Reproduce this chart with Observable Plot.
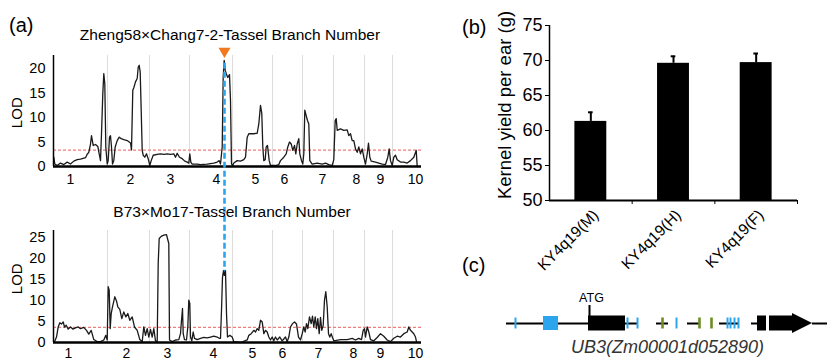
<!DOCTYPE html>
<html><head><meta charset="utf-8">
<script src="https://cdn.jsdelivr.net/npm/d3@7"></script>
<script src="https://cdn.jsdelivr.net/npm/@observablehq/plot@0.6"></script>
<style>
body{margin:0;background:#fff;}
#root{position:relative;width:827px;height:362px;overflow:hidden;font-family:"Liberation Sans",Arial,sans-serif;background:#fff;}
.abs{position:absolute;}
.lbl{position:absolute;white-space:nowrap;color:#000;line-height:1;}
</style></head><body><div id="root"></div>
<script>
// ---------- Panel (a) data ----------
const chromBounds = [54, 96, 136, 179, 219, 249, 280, 311, 339];
const chromNames = ["1","2","3","4","5","6","7","8","9","10"];
const topLabelPos = [17, 77, 117, 163, 202, 231, 269, 303, 327, 362];
const botLabelPos = [15, 73, 114, 160, 199, 229, 265, 300, 327, 362];
const topTitle = "Zheng58×Chang7-2-Tassel Branch Number";
const botTitle = "B73×Mo17-Tassel Branch Number";
const topThreshold = 3.35;
const botThreshold = 3.6;
const qtlPos = 171;
const topTicks = [0, 5, 10, 15, 20];
const botTicks = [0, 5, 10, 15, 20, 25];

const topLOD = [[0.3,1.9],[1.3,0.5],[3.7,0.2],[7,0.7],[10.3,0.4],[13.7,0.9],[17,0.5],[20.3,1.1],[23.7,1.4],[27,1.5],[32,1.8],[33.7,2.5],[35.3,2.9],[37,4.6],[38,6.3],[39.7,4.3],[42,4.5],[44.3,4.1],[45.7,2.6],[47,1.2],[48,6.7],[49.3,14.9],[50.3,19],[51.3,16.9],[52.3,4],[53.7,0.5],[54.7,1.2],[56,6],[57,6.3],[58,4],[59,0.5],[60.3,1.2],[61.7,4],[63.7,5.3],[65.7,6],[67.7,5.7],[70.3,5.5],[73.7,5.3],[77,4.8],[78,3.4],[79.3,15.6],[80.3,16.1],[82,17.3],[83.7,18],[84.7,20.3],[85.7,20.7],[86.7,19.3],[87.7,11.5],[88.7,3.3],[89.7,2.3],[91.3,1.9],[93,2.6],[94.7,1.6],[96.3,0.2],[97.7,1.2],[99.7,2.3],[103.7,2.5],[107,2.6],[110.3,2.5],[113.7,2.6],[117,2.5],[120.3,2.6],[122,1.9],[123.7,2.7],[126,1.9],[128.7,1.6],[131.3,1.1],[133.7,0.9],[135.3,0.7],[136.3,2.6],[137.3,0.9],[138.7,0.5],[143.7,0.5],[147,0.4],[153.7,0.5],[160.3,0.7],[163.7,0.9],[165.7,1.2],[167,0.5],[168.7,4],[169.7,18.3],[170.7,21.7],[171.7,19.7],[173,18.8],[174.3,18.2],[176,18.8],[177,13.5],[178,0.5],[179.3,0.2],[180.3,0.7],[183.7,1.2],[187,1.1],[190.3,1.4],[192,1.9],[193.7,6],[195.3,6.7],[200.3,6.7],[203.7,6.8],[205.3,8.7],[207,12.5],[208.3,10.8],[209.3,4],[210.3,1.2],[211.7,1.4],[212.7,4],[214,4.3],[215.7,1.2],[217,0.2],[222,0.2],[225.3,0.4],[227,1.2],[230.3,1.9],[232.7,2.6],[234.3,4],[236,5],[237.7,4.6],[239.3,3.3],[241,4.3],[242.3,2.6],[243.7,4.6],[245.3,5.7],[246.3,2.6],[248,1.2],[249.3,0.5],[250.3,2.6],[251.3,11.5],[252.7,10.4],[254,9.4],[255.3,8.7],[256.3,1.2],[258.7,0.5],[263.7,0.7],[268.7,0.5],[272,0.7],[275.3,0.4],[278.7,0.2],[280.3,1.4],[281.7,9.4],[282.7,9.8],[283.7,7.4],[287,7.7],[290.3,7.4],[293.7,7.5],[295.3,6.3],[297,6.7],[298.7,5.3],[300.3,5.3],[302,3.6],[303.7,2.9],[305.3,4],[307,2.6],[308.7,3.6],[310.3,1.9],[312,0.5],[313.7,2.6],[315,4.8],[316.3,1.9],[317.7,1.1],[322,0.9],[325.3,0.7],[328.7,0.5],[332,0.4],[334.3,1.9],[335.7,3.6],[337,1.2],[338.7,0.2],[340.3,1.9],[342,2.3],[343.7,1.4],[347,0.9],[350.3,0.9],[353.7,0.7],[357,1.2],[360.3,1.9],[362.7,3.3],[363.7,0]];

const botLOD = [[1,0.2],[3,1.3],[4.7,3.7],[6.3,4.7],[8,4.4],[9.7,4.9],[11,3.7],[12.7,4.1],[14.7,3.2],[17,3.7],[19.3,3.2],[22,3.5],[24.7,3.7],[27,3.3],[30.3,3.6],[33,2.9],[35.3,2],[37.7,2.9],[40.3,0.7],[43.7,0.2],[47,0.2],[50.3,0.6],[52.3,1.7],[53.7,0.6],[54.7,13.3],[55.7,12.5],[56.7,3.3],[57.7,6.9],[59,8.5],[61.3,10.9],[63,9.9],[64.3,8.5],[66.3,7.9],[68.3,5.7],[70.3,7.3],[72.3,6.1],[74.3,6.9],[76.3,5.3],[78.7,6.1],[81,3.7],[83.7,2.9],[86.3,0.7],[88.7,0.2],[90.3,3.7],[92,1.7],[93.7,3.3],[95.3,1.3],[97,3.1],[98.7,1.3],[100.3,3.3],[102,0.4],[103.7,0.2],[104.7,18.8],[105.7,24.8],[107.7,25.3],[110.3,25.6],[113,25.7],[114.3,24.5],[115.3,23.6],[116,0.6],[118.7,0.2],[122,0.6],[125.3,0.7],[127,2.1],[128,5.3],[129,8.1],[129.7,2.1],[131,0.7],[133,0.6],[134.3,3.7],[135.3,10.1],[136.3,9.3],[137,1.3],[138.3,0.4],[139.7,2.5],[141,1],[143.7,0.7],[147,1],[150.3,1.2],[153.7,1.1],[157,1.3],[160.3,1.5],[163.7,1.3],[165.7,1],[167,1],[168,7.7],[169,15.6],[170,17.1],[171,16],[172,17.1],[173,6.9],[174,1.3],[176.3,1.7],[178.7,1.3],[180.3,0.2],[187,0],[193.7,0.6],[195.3,1.7],[197.7,2.1],[200.3,2.9],[202,2.5],[203.7,3.3],[205.3,2.9],[207,5.3],[208.7,4.9],[210.3,2.1],[212,2.9],[213.7,2.5],[215.3,1.3],[217,0.6],[218.7,1.3],[220.3,0.4],[222,1.3],[223.7,0.6],[226.3,1.3],[228.7,0.4],[232,1.3],[233.7,0.2],[235.3,1.3],[237,3.7],[239,4.5],[241,4.9],[243,4.4],[245,1.3],[247,0.6],[248.7,2.1],[250.3,3.7],[251.7,2.5],[253,4.5],[254.3,3.3],[256,6.1],[257.7,4.5],[259,6.3],[260.3,3.7],[261.7,6.1],[263,3.3],[264.3,5.7],[265.7,2.1],[267,6],[268.3,2.9],[269.7,4.1],[271,10.1],[272.3,12.1],[273.7,8.5],[275,2.1],[276.3,1.3],[277.7,2.1],[279,1.2],[280.3,0.4],[287,0.7],[293.7,0.7],[298.7,1],[302,0.6],[305.3,1],[308,0.7],[309.7,2.9],[311,3.3],[312,1.3],[313.7,3.7],[315.3,2.5],[317,0.7],[320.3,0.4],[323.7,1.2],[327,2.1],[330.3,1.5],[333.7,0.6],[337,0.2],[340.3,1],[343.7,1.5],[347,1.3],[350.3,2.1],[353.7,2.5],[355.3,3.7],[357,2.9],[358.7,2.5],[360.3,2.1],[362,1.3],[363,0.2]];

// ---------- Panel (b) data ----------
const genotypes = ["KY4q19(M)", "KY4q19(H)", "KY4q19(F)"];
const yieldMean = [61.3, 69.6, 69.7];
const yieldSE = [1.3, 1.0, 1.3];
const yieldTicks = [50, 55, 60, 65, 70, 75];
const yieldLabel = "Kernel yield per ear (g)";

// ---------- Panel (c) data ----------
const intronSegs = [[6,137],[156,168],[187,200],[219,238],[251,257],[312,327]];
const exonBlocks = [[88,125],[257,266],[269,292]];
const arrowHead = [292, 312];
const utrBlocks = [[43,58]];
const blueMarks = [15, 127, 137, 176, 227, 230, 234, 238];
const greenMarks = [162, 199, 211];
const atgPos = 89;
const geneName = "UB3(Zm00001d052890)";

const FONT = '"Liberation Sans", Arial, sans-serif';
const BLUE = "#2ba6ee";
const GREEN = "#6f8c22";
const root = document.getElementById("root");

function place(el, left, top) {
  el.classList.add("abs");
  el.style.left = left + "px";
  el.style.top = top + "px";
  root.appendChild(el);
}
function label(text, left, top, size, extra) {
  const d = document.createElement("div");
  d.className = "lbl";
  d.textContent = text;
  d.style.left = left + "px";
  d.style.top = top + "px";
  d.style.fontSize = size + "px";
  if (extra) Object.assign(d.style, extra);
  root.appendChild(d);
  return d;
}
const baseStyle = {background: "transparent", overflow: "visible", fontFamily: FONT, color: "#000"};

function lodPlot(data, yMax, ticks, labelPos, thr, mT, mB, height, lodY, labDy, extraMarks) {
  const rows = data.map(([x, y]) => ({x, y}));
  const labs = chromNames.map((n, i) => ({n, x: labelPos[i]}));
  return Plot.plot({
    width: 430, height, marginLeft: 53, marginRight: 9, marginTop: mT, marginBottom: mB,
    x: {domain: [0, 368], axis: null},
    y: {domain: [0, yMax], axis: null},
    style: {...baseStyle, fontSize: "14px"},
    marks: [
      Plot.ruleX(chromBounds, {stroke: "#dcdcdc", strokeWidth: 1}),
      Plot.ruleY([thr], {stroke: "#f07c7c", strokeWidth: 1.2, strokeDasharray: "3,2"}),
      Plot.line(rows, {x: "x", y: "y", stroke: "#1a1a1a", strokeWidth: 1.3}),
      Plot.ruleX([0], {y1: 0, y2: yMax, stroke: "#000", strokeWidth: 1.5}),
      Plot.ruleY([0], {x1: 0, x2: 368, stroke: "#000", strokeWidth: 2.5}),
      Plot.axisY(ticks, {tickSize: 0, tickPadding: 8, fontSize: 14.5, label: null}),
      Plot.text(labs, {x: "x", y: 0, text: "n", dy: labDy, lineAnchor: "middle", fontSize: 14}),
      Plot.text(["LOD"], {x: 0, y: lodY, dx: -36, rotate: -90, fontSize: 15}),
      ...(extraMarks || [])
    ]
  });
}

// Top LOD plot (with QTL marker spanning both panels)
const topPlot = lodPlot(topLOD, 22.7, topTicks, topLabelPos, topThreshold, 15, 24, 150, 11, 13, [
  Plot.ruleX([qtlPos], {y1: 21.1, y2: -22.7, stroke: BLUE, strokeWidth: 2.6, strokeDasharray: "6,3"}),
  Plot.dot([qtlPos], {x: d => d, y: 23.6, symbol: "triangle", rotate: 180, r: 3.5, fill: "#f07a22", stroke: "#f07a22"})
]);
const botPlot = lodPlot(botLOD, 26.7, botTicks, botLabelPos, botThreshold, 15, 20, 147, 15.2, 11);
place(topPlot, 0, 40);
place(botPlot, 0, 215);

label("(a)", 9, 15, 20);
label(topTitle, 0, 27, 15.5, {width: "460px", textAlign: "center"});
label(botTitle, 0, 204, 15.5, {width: "464px", textAlign: "center"});

// Panel (b)
const bars = genotypes.map((g, i) => ({g, i, mean: yieldMean[i], se: yieldSE[i]}));
const bPlot = Plot.plot({
  width: 367, height: 275, marginLeft: 89, marginRight: 30, marginTop: 25, marginBottom: 75,
  x: {domain: [-0.5, 2.5], axis: null},
  y: {domain: [50, 75], axis: null},
  style: {...baseStyle, fontSize: "18px"},
  marks: [
    Plot.rect(bars, {x1: d => d.i - 0.193, x2: d => d.i + 0.193, y1: 50, y2: "mean", fill: "#000"}),
    Plot.ruleX(bars, {x: "i", y1: "mean", y2: d => d.mean + d.se, stroke: "#000", strokeWidth: 2}),
    Plot.ruleY(bars, {y: d => d.mean + d.se, x1: d => d.i - 0.028, x2: d => d.i + 0.028, stroke: "#000", strokeWidth: 2}),
    Plot.ruleX([-0.5], {y1: 50, y2: 75, stroke: "#000", strokeWidth: 1.5}),
    Plot.ruleY([50], {x1: -0.5, x2: 2.5, stroke: "#000", strokeWidth: 2}),
    Plot.axisY(yieldTicks, {tickSize: 4, tickPadding: 3, fontSize: 18, label: null}),
    Plot.axisX([0.5, 1.5, 2.5], {tickSize: 4, tickFormat: () => "", label: null}),
    Plot.text(bars, {x: "i", y: 50, text: "g", dy: 12, dx: 5, rotate: -45, textAnchor: "end", lineAnchor: "middle", fontSize: 15.5}),
    Plot.text([yieldLabel], {frameAnchor: "left", textAnchor: "middle", rotate: -90, dx: -44, dy: -8, fontSize: 18.5})
  ]
});
place(bPlot, 460, 0);
label("(b)", 462, 17, 20);

// Panel (c)
const head = [{x: arrowHead[0], lo: -10, hi: 10}, {x: arrowHead[1], lo: 0, hi: 0}];
const cPlot = Plot.plot({
  width: 327, height: 70, marginLeft: 0, marginRight: 0, marginTop: 0, marginBottom: 0,
  x: {domain: [0, 327], axis: null},
  y: {domain: [-32, 38], axis: null},
  style: {...baseStyle, fontSize: "12px"},
  marks: [
    Plot.ruleY(intronSegs, {x1: d => d[0], x2: d => d[1], y: 0, stroke: "#000", strokeWidth: 2}),
    Plot.rect(utrBlocks, {x1: d => d[0], x2: d => d[1], y1: -7, y2: 7, fill: BLUE}),
    Plot.rect(exonBlocks, {x1: d => d[0], x2: d => d[1], y1: -7.5, y2: 7.5, fill: "#000"}),
    Plot.areaY(head, {x: "x", y1: "lo", y2: "hi", fill: "#000"}),
    Plot.ruleX(blueMarks, {y1: -5.5, y2: 5.5, stroke: BLUE, strokeWidth: 2}),
    Plot.ruleX(greenMarks, {y1: -5.5, y2: 5.5, stroke: GREEN, strokeWidth: 2.6}),
    Plot.ruleX([atgPos], {y1: 0, y2: 18, stroke: "#000", strokeWidth: 2}),
    Plot.text(["ATG"], {x: atgPos + 2, y: 26, text: d => d, fontSize: 12.5}),
    Plot.text([geneName], {x: 167, y: -24, text: d => d, fontSize: 18, fontStyle: "italic", fill: "#333"})
  ]
});
place(cPlot, 500, 285);
label("(c)", 462, 255, 20);
</script></body></html>
